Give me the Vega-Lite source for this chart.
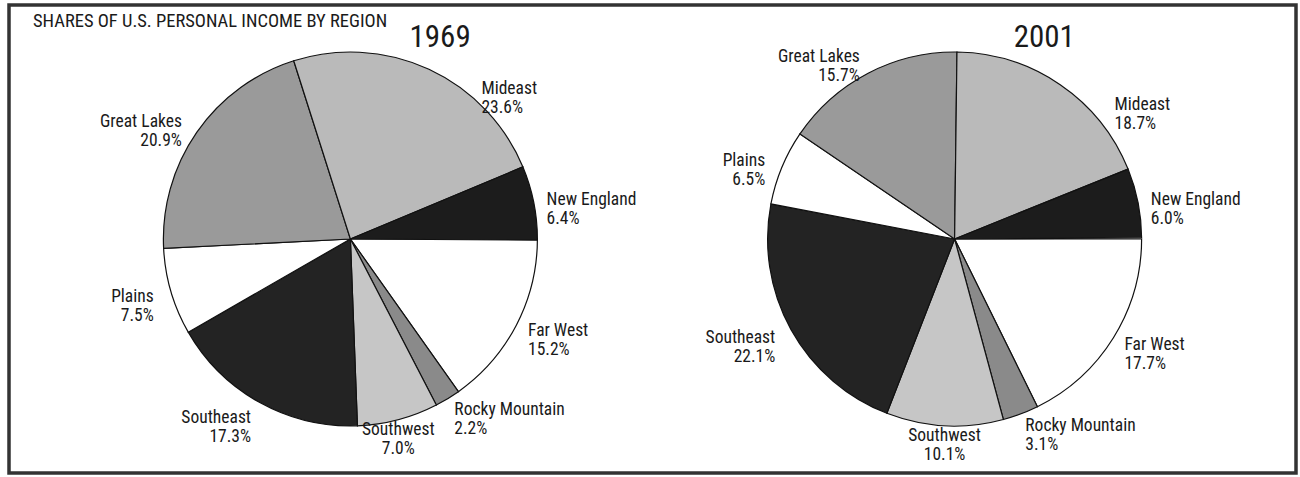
{
  "$schema": "https://vega.github.io/schema/vega-lite/v6.json",
  "width": 1287,
  "height": 468,
  "autosize": "none",
  "padding": {"left": 9, "top": 5, "right": 4, "bottom": 4},
  "background": "white",
  "config": {
    "view": {"stroke": "#333333", "strokeWidth": 3.5},
    "font": "Liberation Sans Narrow, Roboto Condensed, Arial Narrow, Liberation Sans, sans-serif"
  },
  "title": {
    "text": "SHARES OF U.S. PERSONAL INCOME BY REGION",
    "anchor": "start",
    "frame": "group",
    "orient": "top",
    "offset": -25,
    "dx": 24,
    "fontSize": 18.5,
    "fontWeight": "normal",
    "color": "#1a1a1a",
    "font": "Liberation Sans Narrow, Roboto Condensed, Arial Narrow, Liberation Sans, sans-serif"
  },
  "data": {
    "values": [
      {"year": "1969", "region": "Far West", "share": 15.2},
      {"year": "1969", "region": "Rocky Mountain", "share": 2.2},
      {"year": "1969", "region": "Southwest", "share": 7.0},
      {"year": "1969", "region": "Southeast", "share": 17.3},
      {"year": "1969", "region": "Plains", "share": 7.5},
      {"year": "1969", "region": "Great Lakes", "share": 20.9},
      {"year": "1969", "region": "Mideast", "share": 23.6},
      {"year": "1969", "region": "New England", "share": 6.4},
      {"year": "2001", "region": "Far West", "share": 17.7},
      {"year": "2001", "region": "Rocky Mountain", "share": 3.1},
      {"year": "2001", "region": "Southwest", "share": 10.1},
      {"year": "2001", "region": "Southeast", "share": 22.1},
      {"year": "2001", "region": "Plains", "share": 6.5},
      {"year": "2001", "region": "Great Lakes", "share": 15.7},
      {"year": "2001", "region": "Mideast", "share": 18.7},
      {"year": "2001", "region": "New England", "share": 6.0}
    ]
  },
  "transform": [
    {"calculate": "indexof(['Far West','Rocky Mountain','Southwest','Southeast','Plains','Great Lakes','Mideast','New England'], datum.region)", "as": "ord"},
    {"stack": "share", "groupby": ["year"], "sort": [{"field": "ord", "order": "ascending"}], "as": ["s0", "s1"]},
    {"calculate": "(datum.s0 + datum.s1) / 2", "as": "mid"},
    {"calculate": "(90 + datum.mid * 3.6) % 360", "as": "deg"},
    {"calculate": "datum.region + '\\n' + format(datum.share, '.1f') + '%'", "as": "label"}
  ],
  "encoding": {
    "x": {"field": "year", "type": "nominal", "scale": {"type": "point", "domain": ["1969", "2001"], "padding": 0.565}, "axis": null}
  },
  "layer": [
    {
      "mark": {"type": "arc", "outerRadius": 187, "stroke": "#111111", "strokeWidth": 1.2},
      "encoding": {
        "theta": {"field": "s0", "type": "quantitative", "stack": null, "scale": {"domain": [0, 100], "range": [1.5708, 7.854]}},
        "theta2": {"field": "s1"},
        "fill": {
          "field": "region",
          "type": "nominal",
          "scale": {
            "domain": ["Far West", "Rocky Mountain", "Southwest", "Southeast", "Plains", "Great Lakes", "Mideast", "New England"],
            "range": ["#ffffff", "#8a8a8a", "#c6c6c6", "#232323", "#ffffff", "#9a9a9a", "#bababa", "#1c1c1c"]
          },
          "legend": null
        }
      }
    },
    {
      "transform": [{"filter": "datum.deg < 160 && datum.region != 'Mideast'"}],
      "mark": {"type": "text", "radius": 200, "lineBreak": "\n", "fontSize": 17.5, "lineHeight": 19, "align": "left", "baseline": "middle", "color": "#1a1a1a"},
      "encoding": {
        "theta": {"field": "mid", "type": "quantitative", "stack": null},
        "text": {"field": "label", "type": "nominal"}
      }
    },
    {
      "transform": [{"filter": "datum.region == 'Mideast'"}],
      "mark": {"type": "text", "radius": 200, "dx": 47, "dy": 31, "lineBreak": "\n", "fontSize": 17.5, "lineHeight": 19, "align": "left", "baseline": "middle", "color": "#1a1a1a"},
      "encoding": {
        "theta": {"field": "mid", "type": "quantitative", "stack": null},
        "text": {"field": "label", "type": "nominal"}
      }
    },
    {
      "transform": [{"filter": "datum.deg >= 160 && datum.deg < 200"}],
      "mark": {"type": "text", "radius": 188, "lineBreak": "\n", "fontSize": 17.5, "lineHeight": 19, "align": "center", "baseline": "top", "color": "#1a1a1a"},
      "encoding": {
        "theta": {"field": "mid", "type": "quantitative", "stack": null},
        "text": {"field": "label", "type": "nominal"}
      }
    },
    {
      "transform": [{"filter": "datum.deg >= 200"}],
      "mark": {"type": "text", "radius": 205, "lineBreak": "\n", "fontSize": 17.5, "lineHeight": 19, "align": "right", "baseline": "middle", "color": "#1a1a1a"},
      "encoding": {
        "theta": {"field": "mid", "type": "quantitative", "stack": null},
        "text": {"field": "label", "type": "nominal"}
      }
    },
    {
      "transform": [{"filter": "datum.ord == 0"}],
      "mark": {"type": "text", "theta": 0.42, "radius": 220, "fontSize": 31, "align": "center", "baseline": "middle", "color": "#1a1a1a"},
      "encoding": {
        "text": {"field": "year", "type": "nominal"}
      }
    }
  ]
}
